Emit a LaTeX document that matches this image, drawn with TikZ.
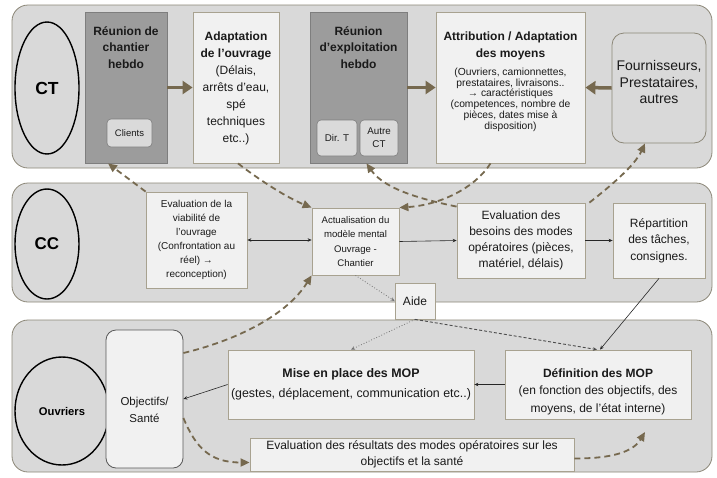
\documentclass[tikz,border=0pt]{standalone}
\usepackage{fontspec}
\setmainfont{Liberation Sans}
\usetikzlibrary{arrows.meta,shapes.geometric}
\definecolor{bandfill}{HTML}{D9D9D9}
\definecolor{bandline}{HTML}{8C8778}
\definecolor{boxfill}{HTML}{F1F1F1}
\definecolor{boxline}{HTML}{A8A290}
\definecolor{darkfill}{HTML}{9C9C9C}
\definecolor{darkline}{HTML}{7E7E7E}
\definecolor{innerfill}{HTML}{DADADA}
\definecolor{brownc}{HTML}{76694F}
\definecolor{textc}{HTML}{1A1A1A}
\newcommand{\fs}[2]{\fontsize{#1}{#2}\selectfont}
\begin{document}
\begin{tikzpicture}[x=1pt,y=-1pt,
  band/.style={draw=bandline, fill=bandfill, line width=0.8pt, rounded corners=16pt, inner sep=0},
  box/.style={draw=boxline, fill=boxfill, line width=0.8pt, inner sep=0},
  dbox/.style={draw=darkline, fill=darkfill, line width=0.8pt, inner sep=0},
  ibox/.style={draw=darkline, fill=innerfill, line width=0.6pt, rounded corners=4pt, inner sep=0, text=textc, align=center},
  rbox/.style={draw=bandline, fill=bandfill, line width=0.8pt, rounded corners=12pt, inner sep=0},
  obox/.style={draw=black!65, fill=boxfill, line width=0.8pt, rounded corners=10pt, inner sep=0},
  ell/.style={ellipse, draw=black, line width=1.4pt, fill=bandfill, inner sep=0, text=black},
  txt/.style={align=center, inner sep=0, text=textc},
  bigarrow/.style={draw=brownc, line width=3.5pt, -{Triangle[length=10pt,width=13pt]}},
  dasharrow/.style={draw=brownc, line width=1.8pt, dash pattern=on 6pt off 4pt, -{Triangle[length=9pt,width=8pt]}},
  thinarrow/.style={draw=black!85, line width=0.6pt, -{Stealth[length=4pt,width=3.5pt]}},
  dotarrow/.style={draw=black!55, line width=0.8pt, dotted, -{Stealth[length=4pt,width=3.5pt]}},
  smalldash/.style={draw=black!70, line width=0.9pt, dash pattern=on 3pt off 2pt, -{Stealth[length=4pt,width=3.5pt]}}
]
\useasboundingbox (0,0) rectangle (717,477);
\fill[white] (0,0) rectangle (717,477);

% ---------- bands ----------
\node[band, minimum width=700pt, minimum height=163pt] (ctband) at (362,86.5) {};
\node[band, minimum width=700pt, minimum height=119pt] (ccband) at (362,242.5) {};
\node[band, minimum width=700pt, minimum height=152pt] (ouband) at (362,396) {};

% ---------- CT ----------
\node[ell, minimum width=64pt, minimum height=132pt] (ctE) at (47,88) {\fs{17.5}{20}\bfseries CT};

\node[dbox, minimum width=82pt, minimum height=151pt] (reu1) at (126,87.5) {};
\node[txt, anchor=north, font=\fs{12}{16.7}\bfseries] (reu1T) at (126,26) {Réunion de\\chantier\\hebdo};
\node[ibox, minimum width=45pt, minimum height=28pt, font=\fs{9.5}{12}] (clients) at (129.5,133) {Clients};

\node[box, minimum width=86pt, minimum height=151pt] (adapt) at (236,87.5) {};
\node[txt, anchor=north, font=\fs{12}{17}] (adaptT) at (236,31.5) {\textbf{Adaptation}\\\textbf{de l'ouvrage}\\(Délais,\\arrêts d'eau,\\spé\\techniques\\etc..)};

\node[dbox, minimum width=97pt, minimum height=151pt] (reu2) at (358.5,87.5) {};
\node[txt, anchor=north, font=\fs{12}{16.7}\bfseries] (reu2T) at (358.5,26) {Réunion\\d'exploitation\\hebdo};
\node[ibox, minimum width=40pt, minimum height=36pt, font=\fs{9.8}{13}] (dirt) at (337,138) {Dir. T};
\node[ibox, minimum width=38pt, minimum height=36pt, font=\fs{9.8}{13}] (autre) at (379,138) {Autre\\CT};

\node[box, minimum width=149pt, minimum height=151pt] (attr) at (510.5,87.5) {};
\node[txt, anchor=north, font=\fs{12}{17}\bfseries] (attrT) at (510.5,31.5) {Attribution / Adaptation\\des moyens};
\node[txt, anchor=north, font=\fs{10.3}{10.9}] (attrS) at (510.5,67.5) {(Ouvriers, camionnettes,\\prestataires, livraisons..\\→ caractéristiques\\(competences, nombre de\\pièces, dates mise à\\disposition)};

\node[rbox, minimum width=94pt, minimum height=110pt] (four) at (659,88) {};
\node[txt, font=\fs{14}{16.7}] (fourT) at (659,82) {Fournisseurs,\\Prestataires,\\autres};

\draw[bigarrow] (reu1.east) -- (adapt.west);
\draw[bigarrow] (reu2.east) -- (attr.west);
\draw[bigarrow] (four.west) -- (attr.east);

% ---------- CC ----------
\node[ell, minimum width=64pt, minimum height=110pt] (ccE) at (47,244) {\fs{17}{20}\bfseries CC};

\node[box, minimum width=101pt, minimum height=96pt, txt, font=\fs{10}{14}] (evalv) at (196.5,240) {Evaluation de la\\viabilité de\\l'ouvrage\\(Confrontation au\\réel) →\\reconception)};
\node[box, minimum width=87pt, minimum height=67pt, txt, font=\fs{9.6}{14.5}] (actu) at (355.5,241.5) {Actualisation du\\modèle mental\\Ouvrage -\\Chantier};
\node[box, minimum width=128pt, minimum height=75pt, txt, font=\fs{12}{16.2}] (evalb) at (521,240.5) {Evaluation des\\besoins des modes\\opératoires (pièces,\\matériel, délais)};
\node[box, minimum width=92pt, minimum height=75pt, txt, font=\fs{12}{16.5}] (rep) at (659,240.5) {Répartition\\des tâches,\\consignes.};
\node[box, minimum width=40pt, minimum height=36pt, txt, font=\fs{12}{14}] (aide) at (415,301) {Aide};

\draw[thinarrow, {Stealth[length=4pt,width=3.5pt]}-{Stealth[length=4pt,width=3.5pt]}] (evalv.east) -- (evalv.east -| actu.west);
\draw[thinarrow] (actu.east) -- (evalb.west);
\draw[thinarrow] (evalb.east) -- (rep.west);

% ---------- Ouvriers ----------
\node[ell, minimum width=94pt, minimum height=108pt] (ouE) at (62,411) {\fs{11.2}{13}\bfseries Ouvriers};
\node[obox, minimum width=77pt, minimum height=138pt] (obj) at (144.5,399) {};
\node[txt, font=\fs{11.5}{16.5}] (objT) at (144.5,410) {Objectifs/\\Santé};

\node[box, minimum width=246pt, minimum height=69pt] (mise) at (351,384.5) {};
\node[txt, anchor=north, font=\fs{12.4}{20}] (miseT) at (351,368) {\textbf{Mise en place des MOP}\\(gestes, déplacement, communication etc..)};

\node[box, minimum width=186pt, minimum height=69pt] (defi) at (598,384.5) {};
\node[txt, anchor=north, font=\fs{12}{17.5}] (defiT) at (598,368) {\textbf{Définition des MOP}\\(en fonction des objectifs, des\\moyens, de l'état interne)};

\node[box, minimum width=324pt, minimum height=33pt, txt, font=\fs{12}{16}] (evalr) at (412,454.5) {Evaluation des résultats des modes opératoires sur les\\objectifs et la santé};

\draw[thinarrow] (defi.west) -- (mise.east);
\draw[thinarrow] (mise.west) -- (obj.east);

% ---------- dotted / small dashed from Aide ----------
\draw[dotarrow] (actu.south) -- (aide.west);
\draw[dotarrow] (aide.south) -- (mise.north);
\draw[smalldash] (aide.south) -- ([xshift=-1pt]defi.north);
\draw[thinarrow] (rep.south) -- ([xshift=2pt]defi.north);

% ---------- brown dashed arrows ----------
\draw[dasharrow] (evalv.north west) -- ([xshift=-18pt]reu1.south);
\draw[dasharrow] ([xshift=2pt]adapt.south) .. controls (262,182) and (288,198) .. (actu.north west);
\draw[dasharrow] ([yshift=-4pt]evalb.north west) .. controls (425,200) and (385,190) .. ([xshift=8pt]reu2.south);
\draw[dasharrow] ([xshift=-20pt]attr.south) .. controls (475,188) and (440,205) .. (actu.north east);
\draw[dasharrow] ([xshift=4pt]evalb.north east) .. controls (612,185) and (635,165) .. ([xshift=-14pt]four.south);
\draw[dasharrow] ([yshift=46pt]obj.east) .. controls (230,342) and (285,318) .. (actu.south west);
\draw[dasharrow] ([yshift=-19pt]obj.east) .. controls (196,448) and (210,462.5) .. ([yshift=-8pt]evalr.west);
\coordinate (hend) at (645,432);
\draw[dasharrow] ([yshift=-4pt]evalr.east) .. controls (612,458.5) and (633,452) .. (hend);
\end{tikzpicture}
\end{document}
